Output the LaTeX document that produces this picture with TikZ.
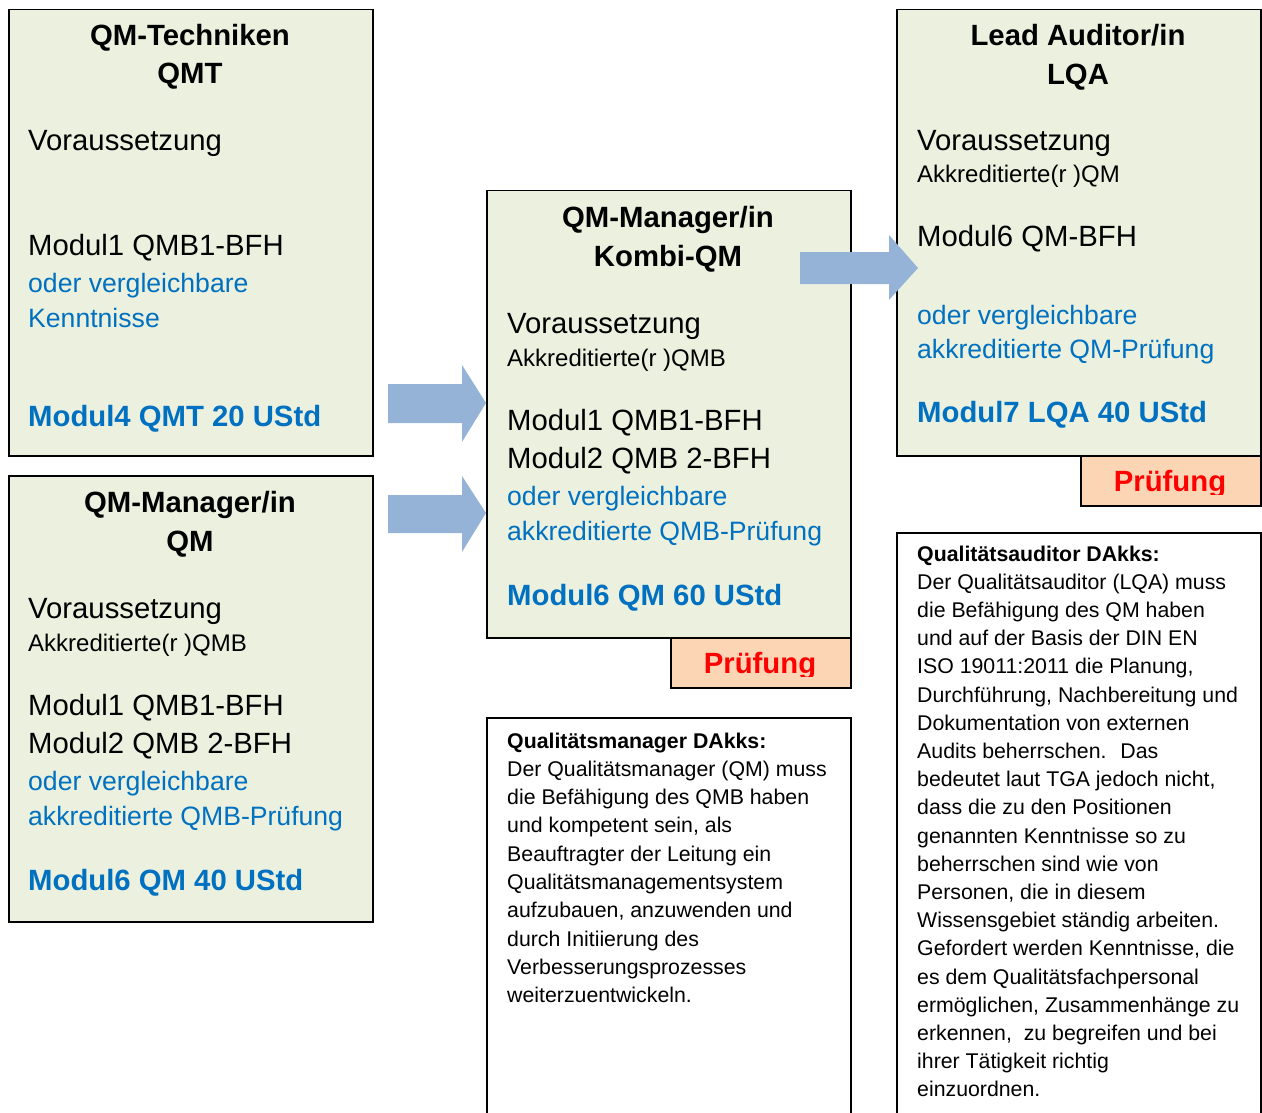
\documentclass[tikz,border=0pt]{standalone}
\usepackage{fontspec}
\setmainfont{Liberation Sans}
\usepackage{xcolor}

\definecolor{boxgreen}{HTML}{EBF1DE}
\definecolor{pruefpeach}{HTML}{FCD5B5}
\definecolor{arrowblue}{HTML}{95B3D7}
\definecolor{textblue}{HTML}{0070C0}

\newcommand{\fbig}{\fontsize{29.3}{35}\selectfont}
\newcommand{\fblue}{\fontsize{26.6}{32}\selectfont}
\newcommand{\fmid}{\fontsize{24}{29}\selectfont}
\newcommand{\fsmall}{\fontsize{21.3}{28.3}\selectfont}

\tikzset{
  kasten/.style={draw, line width=1.5pt, fill=boxgreen, anchor=north west,
                 inner sep=0pt, minimum width=364pt},
  pruefkasten/.style={draw, line width=1.5pt, fill=pruefpeach, anchor=north west,
                 inner sep=0pt, minimum width=180pt, minimum height=50pt},
  infokasten/.style={draw, line width=1.5pt, fill=white, anchor=north west,
                 inner sep=0pt, minimum width=364pt},
  titel/.style={anchor=base, inner sep=0pt, font=\fbig\bfseries},
  zeile/.style={anchor=base west, inner sep=0pt, font=\fbig},
  blau/.style={zeile, font=\fblue, text=textblue},
  modul/.style={zeile, font=\fbig\bfseries, text=textblue},
  klein/.style={zeile, font=\fmid},
  info/.style={zeile, font=\fsmall},
  pruef/.style={anchor=base, inner sep=0pt, font=\fbig\bfseries, text=red},
  pfeil/.style={fill=arrowblue}
}

\begin{document}
\begin{tikzpicture}[x=1pt, y=-1pt]
        \useasboundingbox (0,0) rectangle (1262,1113);
        %boxes
        \node[kasten, minimum height=446pt] (qmt) at (8,9) {};
        \node[kasten, minimum height=446pt] (qm) at (8,475) {};
        \node[kasten, minimum height=447pt] (kombi) at (486,190) {};
        \node[kasten, minimum height=446pt] (lqa) at (896,9) {};
        \node[pruefkasten] (pk1) at (670,637) {};
        \node[pruefkasten] (pk2) at (1080,455) {};
        \node[infokasten, minimum height=420pt] (mgr) at (486,717) {};
        \node[infokasten, minimum height=600pt] (aud) at (896,532) {};
        %QM-Techniken
        \node[titel] (qmt1) at (190,46) {QM-Techniken};
        \node[titel] (qmt2) at (190,84) {QMT};
        \node[zeile] (qmt3) at (28,151) {Voraussetzung};
        \node[zeile] (qmt4) at (28,255) {Modul1 QMB1-BFH};
        \node[blau] (qmt5) at (28,292) {oder vergleichbare};
        \node[blau] (qmt6) at (28,327) {Kenntnisse};
        \node[modul] (qmt7) at (28,426) {Modul4 QMT 20 UStd};
        %QM-Manager QM
        \node[titel] (qm1) at (190,512) {QM-Manager/in};
        \node[titel] (qm2) at (190,551) {QM};
        \node[zeile] (qm3) at (28,618) {Voraussetzung};
        \node[klein] (qm4) at (28,651) {Akkreditierte(r )QMB};
        \node[zeile] (qm5) at (28,715) {Modul1 QMB1-BFH};
        \node[zeile] (qm6) at (28,753) {Modul2 QMB 2-BFH};
        \node[blau] (qm7) at (28,790) {oder vergleichbare};
        \node[blau] (qm8) at (28,825) {akkreditierte QMB-Prüfung};
        \node[modul] (qm9) at (28,890) {Modul6 QM 40 UStd};
        %QM-Manager Kombi
        \node[titel] (ko1) at (668,227) {QM-Manager/in};
        \node[titel] (ko2) at (668,266) {Kombi-QM};
        \node[zeile] (ko3) at (507,333) {Voraussetzung};
        \node[klein] (ko4) at (507,366) {Akkreditierte(r )QMB};
        \node[zeile] (ko5) at (507,430) {Modul1 QMB1-BFH};
        \node[zeile] (ko6) at (507,468) {Modul2 QMB 2-BFH};
        \node[blau] (ko7) at (507,505) {oder vergleichbare};
        \node[blau] (ko8) at (507,540) {akkreditierte QMB-Prüfung};
        \node[modul] (ko9) at (507,605) {Modul6 QM 60 UStd};
        %Lead Auditor
        \node[titel] (la1) at (1078,46) {Lead Auditor/in};
        \node[titel] (la2) at (1078,85) {LQA};
        \node[zeile] (la3) at (917,151) {Voraussetzung};
        \node[klein] (la4) at (917,183) {Akkreditierte(r )QM};
        \node[zeile] (la5) at (917,247) {Modul6 QM-BFH};
        \node[blau] (la6) at (917,324) {oder vergleichbare};
        \node[blau] (la7) at (917,358) {akkreditierte QM-Prüfung};
        \node[modul] (la8) at (917,422) {Modul7 LQA 40 UStd};
        %Pruefung, unten abgeschnitten
        \begin{scope}
          \clip (670,637) rectangle (850,676);
          \node[pruef] (pt1) at (760,673) {Prüfung};
        \end{scope}
        \begin{scope}
          \clip (1080,455) rectangle (1260,494);
          \node[pruef] (pt2) at (1170,491) {Prüfung};
        \end{scope}
        %DAkks texts
        \node[info, font=\fsmall\bfseries] (mgr0) at (507,748) {Qualitätsmanager DAkks:};
        \foreach \zeile [count=\i] in {{Der Qualitätsmanager (QM) muss},
              {die Befähigung des QMB haben}, {und kompetent sein, als},
              {Beauftragter der Leitung ein}, {Qualitätsmanagementsystem},
              {aufzubauen, anzuwenden und}, {durch Initiierung des},
              {Verbesserungsprozesses}, {weiterzuentwickeln.}}
          \node[info] (mgr\i) at (507,748+28.3*\i) {\zeile};
        \node[info, font=\fsmall\bfseries] (aud0) at (917,561) {Qualitätsauditor DAkks:};
        \foreach \zeile [count=\i] in {{Der Qualitätsauditor (LQA) muss},
              {die Befähigung des QM haben}, {und auf der Basis der DIN EN},
              {ISO 19011:2011 die Planung,}, {Durchführung, Nachbereitung und},
              {Dokumentation von externen}, {Audits beherrschen.~ Das},
              {bedeutet laut TGA jedoch nicht,}, {dass die zu den Positionen},
              {genannten Kenntnisse so zu}, {beherrschen sind wie von},
              {Personen, die in diesem}, {Wissensgebiet ständig arbeiten.},
              {Gefordert werden Kenntnisse, die}, {es dem Qualitätsfachpersonal},
              {ermöglichen, Zusammenhänge zu}, {erkennen,~ zu begreifen und bei},
              {ihrer Tätigkeit richtig}, {einzuordnen.}}
          \node[info] (aud\i) at (917,561+28.2*\i) {\zeile};
        %arrows
        \coordinate (tip1) at (kombi.west |- 0,403);
        \coordinate (tip2) at (kombi.west |- 0,513);
        \coordinate (tip3) at (918,268);
        \fill[pfeil] (tip1) -- ++(-24,-38) -- ++(0,19) -- ++(-74,0) -- ++(0,39)
              -- ++(74,0) -- ++(0,19) -- cycle;
        \fill[pfeil] (tip2) -- ++(-24,-37) -- ++(0,19) -- ++(-74,0) -- ++(0,38)
              -- ++(74,0) -- ++(0,19) -- cycle;
        \fill[pfeil] (tip3) -- ++(-29,-33) -- ++(0,17) -- ++(-89,0) -- ++(0,32)
              -- ++(89,0) -- ++(0,16) -- cycle;
\end{tikzpicture}
\end{document}
